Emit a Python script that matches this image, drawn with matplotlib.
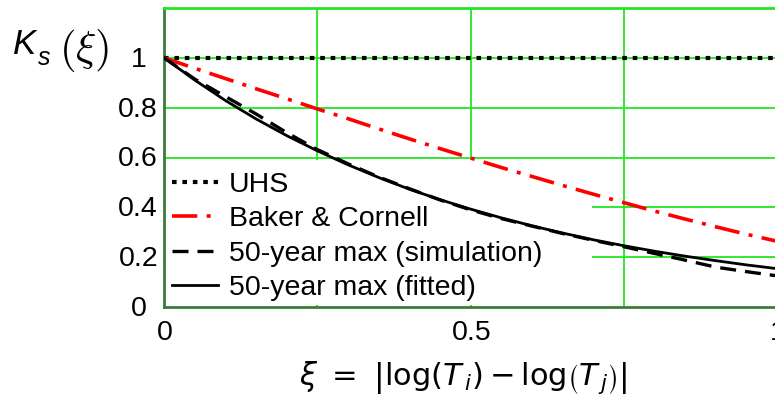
import numpy as np
import matplotlib.pyplot as plt
from matplotlib.patches import Rectangle

plt.rcParams['font.family'] = ['Liberation Sans', 'DejaVu Sans']
plt.rcParams['mathtext.fontset'] = 'dejavusans'

# values
xi = [0.0, 0.05, 0.1, 0.15, 0.2, 0.25, 0.3, 0.35, 0.4, 0.45, 0.5,
      0.55, 0.6, 0.65, 0.7, 0.75, 0.8, 0.85, 0.9, 0.95, 1.0]
uhs = [1.0] * len(xi)
baker_cornell = [1.0, 0.958, 0.917, 0.876, 0.836, 0.795, 0.756, 0.715, 0.675, 0.636, 0.598,
                 0.560, 0.524, 0.488, 0.453, 0.419, 0.385, 0.353, 0.322, 0.292, 0.264]
sim_50yr = [1.0, 0.915, 0.845, 0.775, 0.700, 0.632, 0.575, 0.522, 0.475, 0.430, 0.390,
            0.355, 0.325, 0.295, 0.268, 0.242, 0.215, 0.188, 0.160, 0.142, 0.125]
fit_50yr = [1.0, 0.911, 0.829, 0.755, 0.688, 0.627, 0.571, 0.520, 0.473, 0.431, 0.393,
            0.358, 0.326, 0.297, 0.270, 0.246, 0.224, 0.204, 0.186, 0.169, 0.154]
yticks = [0, 0.2, 0.4, 0.6, 0.8, 1.0]
yticklabels = ['0', '0.2', '0.4', '0.6', '0.8', '1']
xticks = [0, 0.5, 1.0]
xticklabels = ['0', '0.5', '1']

fs = 20.5

fig = plt.figure(figsize=(7.75, 4.05), dpi=100)
ax = fig.add_axes([164 / 775, 98 / 405, 613 / 775, 299 / 405])

grid_col = '#22e622'
ax.set_xlim(0, 1)
ax.set_ylim(0, 1.2)
ax.set_xticks([0.25, 0.5, 0.75, 1.0])
ax.set_yticks([0.2, 0.4, 0.6, 0.8, 1.0])
ax.grid(True, color=grid_col, lw=1.3)
ax.set_axisbelow(True)

# white patch behind the legend hides the grid but not the curves
ax.add_patch(Rectangle((0.003, 0.008), 0.695, 0.482, transform=ax.transAxes,
                       facecolor='white', edgecolor='none', zorder=1))

ax.plot(xi, uhs, color='black', lw=3, dashes=(1.1, 1.4), label='UHS', zorder=3)
ax.plot(xi, baker_cornell, color='#ff0000', lw=2.6, dashes=(7, 2.6, 1.1, 2.6),
        label='Baker & Cornell', zorder=3)
ax.plot(xi, sim_50yr, color='black', lw=2.4, dashes=(4.8, 2.7),
        label='50-year max (simulation)', zorder=3)
ax.plot(xi, fit_50yr, color='black', lw=2.0, label='50-year max (fitted)', zorder=3)

# tick labels placed by hand: grid lines and labelled values differ
ax.tick_params(length=0, labelbottom=False, labelleft=False)
for v, s in zip(yticks, yticklabels):
    dx = -17 if s in ('0', '1') else -6
    ax.annotate(s, (0, v), xycoords=('axes fraction', 'data'), xytext=(dx, -2),
                textcoords='offset pixels', ha='right', va='center', fontsize=fs)
for v, s in zip(xticks, xticklabels):
    ax.annotate(s, (v, 0), xycoords=('data', 'axes fraction'), xytext=(1, -13),
                textcoords='offset pixels', ha='center', va='top', fontsize=fs)

for side in ['left', 'bottom']:
    ax.spines[side].set_color('#3a7d3a')
    ax.spines[side].set_linewidth(2)
ax.spines['top'].set_color(grid_col)
ax.spines['top'].set_linewidth(2)
ax.spines['right'].set_visible(False)

leg = ax.legend(loc='lower left', bbox_to_anchor=(0.004, 0), borderaxespad=0,
                frameon=False, fontsize=fs, handlelength=1.6, handletextpad=0.4,
                labelspacing=0.3, borderpad=0.2)

# y label K_s(xi) in the top left corner
fig.text(13 / 775, 1 - 45 / 405, 'K', fontsize=25, style='italic', ha='left', va='center')
fig.text(38 / 775, 1 - 58 / 405, 's', fontsize=18, style='italic', ha='left', va='center')
fig.text(84 / 775, 1 - 50 / 405, r'$(\xi)$', fontsize=31, ha='center', va='center',
         math_fontfamily='cm')
fig.text(463 / 775, 1 - 378 / 405,
         r'$\xi\ =\ \left|\mathrm{log}\left(T_{\,i}\right)-\mathrm{log}\left(T_{\,j}\right)\right|$',
         fontsize=22, ha='center', va='center')

fig.savefig('out.png', dpi=100)
